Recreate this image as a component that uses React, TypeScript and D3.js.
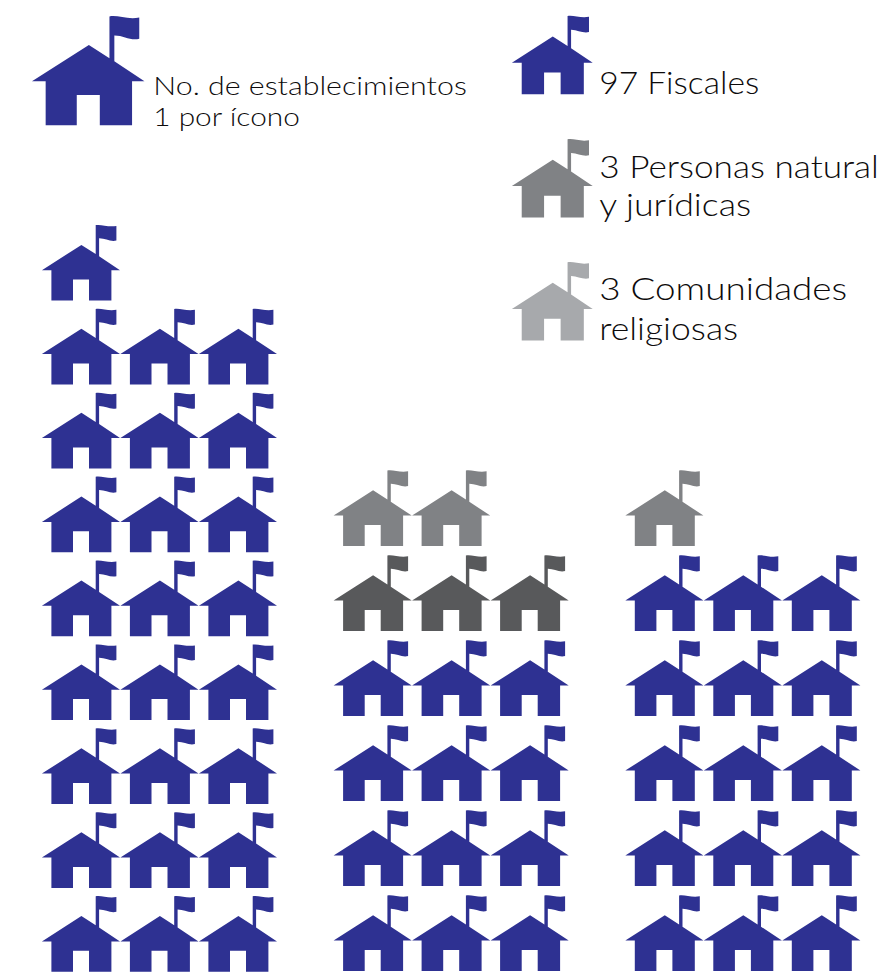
import React from "react";
import * as d3 from "d3";

const columns = ["A", "B", "C"];
const fiscales = [25, 12, 15];
const personas = [0, 3, 0];
const comunidades = [0, 2, 1];
const legendLabels = [
  ["97 Fiscales"],
  ["3 Personas naturales", "y jurídicas"],
  ["3 Comunidades", "religiosas"],
];

const BLUE = "#2e3192";
const DARK = "#58595b";
const MID = "#808285";
const LIGHT = "#a7a9ac";
const PER_ROW = 3;
const FONT = "Lato, 'Open Sans', sans-serif";

const HOUSE =
  "M-0.5,45.6 L39,20.3 L53.3,29.5 L53.3,0.5 C59,-0.6 66,3 74,1.3 L74,16 C68,17.6 63,13.6 56.7,13.7 L56.7,31.7 L77.6,45.6 L69,45.6 L69,76 L46.6,76 L46.6,55 L30.6,55 L30.6,76 L9,76 L9,45.6 Z";

const groupX = d3.scalePoint<string>().domain(columns).range([42.4, 625.8]);
// row 0 is the bottom row of each stack
const rowYA = d3.scaleLinear().domain([0, 8]).range([895.8, 224.6]);
const rowYB = d3.scaleLinear().domain([0, 5]).range([895, 470]);
const slotX = d3.scaleLinear().domain([0, 2]).range([0, 157]);

function House({ x, y, k = 1, fill }: { x: number; y: number; k?: number; fill: string }) {
  return <path d={HOUSE} transform={`translate(${x},${y}) scale(${k})`} fill={fill} />;
}

function Stack({ index }: { index: number }) {
  const col = columns[index];
  const items = [
    ...d3.range(fiscales[index]).map(() => BLUE),
    ...d3.range(personas[index]).map(() => DARK),
    ...d3.range(comunidades[index]).map(() => MID),
  ];
  const rowY = index === 0 ? rowYA : rowYB;
  return (
    <g>
      {items.map((fill, i) => (
        <House
          key={i}
          x={(groupX(col) as number) + slotX(i % PER_ROW)}
          y={rowY(Math.floor(i / PER_ROW))}
          fill={fill}
        />
      ))}
    </g>
  );
}

function Label({ x, y, size, width, text }: { x: number; y: number; size: number; width: number; text: string }) {
  return (
    <text
      x={x}
      y={y}
      fontFamily={FONT}
      fontWeight={300}
      fontSize={size}
      fill="#0d0b0c"
      textLength={width}
      lengthAdjust="spacingAndGlyphs"
    >
      {text}
    </text>
  );
}

export default function App() {
  return (
    <svg
      width={878}
      height={974}
      viewBox="0 0 878 974"
      style={{ position: "absolute", left: 0, top: 0, display: "block", background: "#fff" }}
    >
      <House x={32.7} y={15.7} k={1.44} fill={BLUE} />
      <Label x={153.3} y={95} size={26} width={313.5} text="No. de establecimientos" />
      <Label x={153.3} y={126} size={26} width={146.5} text="1 por ícono" />

      <House x={512.4} y={15.5} k={1.035} fill={BLUE} />
      <House x={512.4} y={138.8} k={1.035} fill={MID} />
      <House x={512.4} y={261.8} k={1.035} fill={LIGHT} />

      <Label x={599.2} y={94} size={31} width={160} text={legendLabels[0][0]} />
      <Label x={599.2} y={178} size={31} width={313} text={legendLabels[1][0]} />
      <Label x={599.2} y={216} size={31} width={152} text={legendLabels[1][1]} />
      <Label x={599.2} y={300} size={31} width={248} text={legendLabels[2][0]} />
      <Label x={599.2} y={340} size={31} width={139} text={legendLabels[2][1]} />

      {columns.map((_, i) => (
        <Stack key={i} index={i} />
      ))}
    </svg>
  );
}
